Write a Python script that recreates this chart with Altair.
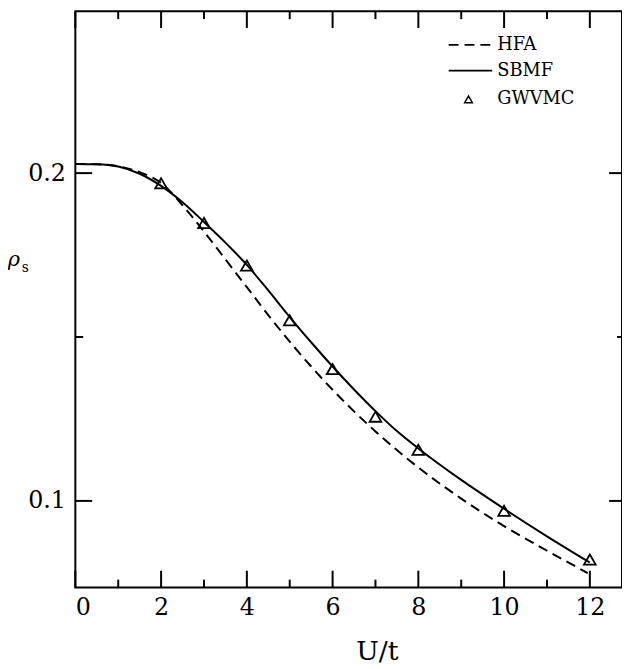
import altair as alt
import pandas as pd

# ---- data ----
U_line = [0, 0.5, 1, 1.5, 2, 2.5, 3, 3.5, 4, 4.5, 5, 5.5, 6, 6.5, 7, 7.5, 8, 9, 10, 11, 12]
sbmf = [0.2028, 0.2027, 0.2020, 0.1998, 0.1961, 0.1911, 0.1851, 0.1788, 0.1720, 0.1642,
        0.1561, 0.1484, 0.1410, 0.1340, 0.1274, 0.1213, 0.1160, 0.1064, 0.0976, 0.0892, 0.0812]
U_hfa = [0, 0.5, 1, 1.5, 2, 2.5, 3, 3.5, 4, 4.5, 5, 5.5, 6, 6.5, 7, 7.5, 8, 9, 10, 11, 11.95]
hfa = [0.2028, 0.2027, 0.2021, 0.2003, 0.1970, 0.1902, 0.1822, 0.1737, 0.1652, 0.1567,
       0.1486, 0.1410, 0.1339, 0.1273, 0.1212, 0.1155, 0.1102, 0.1007, 0.0923, 0.0848, 0.0780]
U_mc = [2, 3, 4, 5, 6, 7, 8, 10, 12]
gwvmc = [0.1969, 0.1848, 0.1718, 0.1551, 0.1402, 0.1257, 0.1156, 0.0970, 0.0821]

x_major = [0, 2, 4, 6, 8, 10, 12]
x_minor = [1, 3, 5, 7, 9, 11]
y_major = [0.1, 0.2]
y_minor = [0.15]
legend_labels = ["HFA", "SBMF", "GWVMC"]

W, H = 552, 582
XDOM = [0, 12.75]
YDOM = [0.07356, 0.2494]
FONT = "DejaVu Serif"

xs = alt.Scale(domain=XDOM, nice=False, zero=False)
ys = alt.Scale(domain=YDOM, nice=False, zero=False)

X = alt.X("U:Q", scale=xs,
          axis=alt.Axis(values=x_major, ticks=False, tickSize=0, domain=False, grid=False,
                        labelFont=FONT, labelFontSize=24, labelPadding=8,
                        labelColor="black", title=None))
Y = alt.Y("rho:Q", scale=ys,
          axis=alt.Axis(values=y_major, format=".1f", ticks=False, tickSize=0, domain=False,
                        grid=False, labelFont=FONT, labelFontSize=24, labelPadding=10,
                        labelColor="black", title=None))

sb_df = pd.DataFrame({"U": U_line, "rho": sbmf})
hf_df = pd.DataFrame({"U": U_hfa, "rho": hfa})
mc_df = pd.DataFrame({"U": U_mc, "rho": gwvmc})

sb_line = alt.Chart(sb_df).mark_line(color="black", strokeWidth=2, interpolate="monotone").encode(
    x=X, y=Y)
hf_line = alt.Chart(hf_df).mark_line(color="black", strokeWidth=2, strokeDash=[10, 6],
                                     interpolate="monotone").encode(x=X, y=Y)
mc_pts = alt.Chart(mc_df).mark_point(shape="triangle-up", filled=False, color="black",
                                     strokeWidth=1.8, size=140, opacity=1).encode(x=X, y=Y)

# inward ticks on all four sides
xmaj = pd.DataFrame({"U": x_major})
xmin = pd.DataFrame({"U": x_minor})
ymaj = pd.DataFrame({"rho": y_major})
ymin = pd.DataFrame({"rho": y_minor})


def xticks(df, y0, y1):
    return alt.Chart(df).mark_rule(color="black", strokeWidth=2).encode(
        x=X, y=alt.value(y0), y2=alt.value(y1))


def yticks(df, x0, x1):
    return alt.Chart(df).mark_rule(color="black", strokeWidth=2).encode(
        y=Y, x=alt.value(x0), x2=alt.value(x1))


ticks = [
    xticks(xmaj, H, H - 17), xticks(xmin, H, H - 8),
    xticks(xmaj, 0, 17), xticks(xmin, 0, 8),
    yticks(ymaj, 0, 17), yticks(ymin, 0, 8),
    yticks(ymaj, W, W - 13), yticks(ymin, W, W - 5),
]

# legend (drawn by hand)
one = pd.DataFrame({"a": [0]})
leg_dash = alt.Chart(one).mark_rule(color="black", strokeWidth=2, strokeDash=[10, 6]).encode(
    x=alt.value(377), x2=alt.value(421), y=alt.value(34))
leg_solid = alt.Chart(one).mark_rule(color="black", strokeWidth=2).encode(
    x=alt.value(377), x2=alt.value(421), y=alt.value(60))
leg_tri = alt.Chart(one).mark_point(shape="triangle-up", filled=False, color="black",
                                    strokeWidth=1.5, size=60, opacity=1).encode(
    x=alt.value(397), y=alt.value(89))
leg_texts = [
    alt.Chart(one).mark_text(font=FONT, fontSize=18, align="left", baseline="middle",
                             color="black", text=lab).encode(x=alt.value(426), y=alt.value(yy))
    for lab, yy in zip(legend_labels, [34, 60, 89])
]

# axis titles
xtitle = alt.Chart(one).mark_text(font=FONT, fontSize=27, align="center", baseline="alphabetic",
                                  color="black", text="U/t").encode(
    x=alt.value(305), y=alt.value(H + 73))
rho = alt.Chart(one).mark_text(font=FONT, fontSize=21, fontStyle="italic", align="center",
                               baseline="alphabetic", color="black", text="ρ").encode(
    x=alt.value(-62), y=alt.value(257))
sub = alt.Chart(one).mark_text(font=FONT, fontSize=14, align="left",
                               baseline="alphabetic", color="black", text="s").encode(
    x=alt.value(-54), y=alt.value(263))

chart = alt.layer(
    sb_line, hf_line, mc_pts, *ticks, leg_dash, leg_solid, leg_tri, *leg_texts, xtitle, rho, sub
).properties(
    width=W, height=H, autosize="none",
    padding={"left": 68, "right": 0, "top": 0, "bottom": 79},
).configure_view(stroke="black", strokeWidth=2)

chart.save("out.html", embed_options={"renderer": "svg", "actions": False})
